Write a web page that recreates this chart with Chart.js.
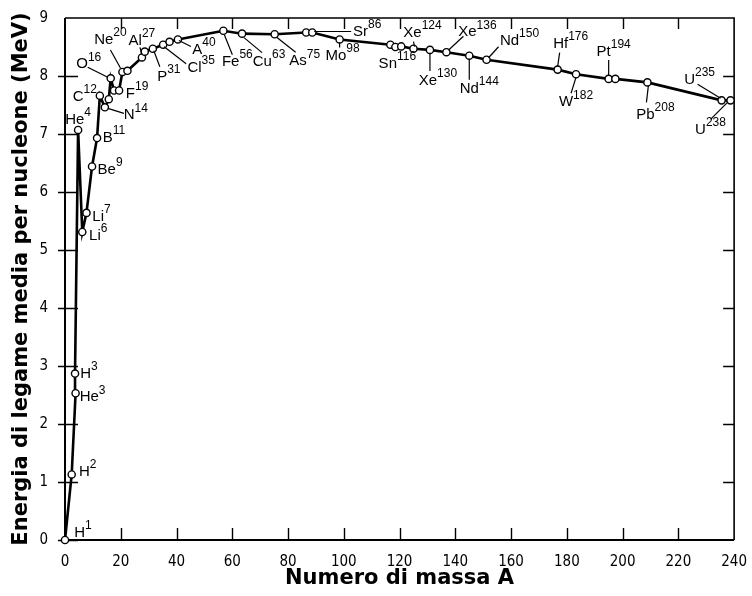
<!DOCTYPE html>
<html>
<head>
<meta charset="utf-8">
<script src="https://cdn.jsdelivr.net/npm/chart.js@4.4.1/dist/chart.umd.min.js"></script>
<style>
  html, body { margin: 0; padding: 0; background: #fff; }
</style>
</head>
<body>
<canvas id="curva" width="752" height="596"></canvas>
<script>
// Dati (numero di massa A, energia di legame per nucleone in MeV)
const massNumbers = [0, 2.4, 3.8, 3.6, 4.7, 6.2, 7.7, 9.7, 11.5, 12.5, 14.3, 15.7, 16.4, 17.6, 19.4, 20.6, 22.4,
  27.6, 28.6, 31.5, 35.2, 37.5, 40.5, 56.8, 63.5, 75.2, 86.5, 88.7, 98.5, 116.7, 118.5, 120.6, 125.0,
  130.9, 136.8, 145.0, 151.2, 176.7, 183.3, 195.0, 197.4, 208.9, 235.5, 238.7];
const bindingEnergy = [0.00, 1.13, 2.53, 2.87, 7.07, 5.31, 5.64, 6.44, 6.93, 7.66, 7.46, 7.60, 7.96, 7.75, 7.75, 8.07, 8.09,
  8.32, 8.42, 8.47, 8.54, 8.59, 8.63, 8.78, 8.73, 8.72, 8.75, 8.75, 8.63, 8.54, 8.50, 8.51, 8.47,
  8.45, 8.41, 8.35, 8.28, 8.11, 8.03, 7.95, 7.95, 7.89, 7.58, 7.58];
const nuclideNames = ['H', 'H', 'He', 'H', 'He', 'Li', 'Li', 'Be', 'B', 'C', 'N', '', 'O', '', 'F', 'Ne', '',
  'Al', '', 'P', 'Cl', '', 'A', 'Fe', 'Cu', 'As', 'Sr', '', 'Mo', 'Sn', '', '', 'Xe',
  'Xe', 'Xe', 'Nd', 'Nd', 'Hf', 'W', 'Pt', '', 'Pb', 'U', 'U'];
const nuclideMass = ['1', '2', '3', '3', '4', '6', '7', '9', '11', '12', '14', '', '16', '', '19', '20', '',
  '27', '', '31', '35', '', '40', '56', '63', '75', '86', '', '98', '116', '', '', '124',
  '130', '136', '144', '150', '176', '182', '194', '', '208', '235', '238'];
const xTickValues = [0, 20, 40, 60, 80, 100, 120, 140, 160, 180, 200, 220, 240];
const yTickValues = [0, 1, 2, 3, 4, 5, 6, 7, 8, 9];

// Posizione delle etichette rispetto al punto (px) e tratto di richiamo [x1, y1, x2, y2]
const labelLayout = {
  0: { dx: 18, dy: -7 },
  1: { dx: 16, dy: -3 },
  2: { dx: 17, dy: 4 },
  3: { dx: 14, dy: 0 },
  4: { dx: 0, dy: -10 },
  5: { dx: 16, dy: 4 },
  6: { dx: 15, dy: 4 },
  7: { dx: 18, dy: 3 },
  8: { dx: 17, dy: 0 },
  9: { dx: -15, dy: 1 },
  10: { dx: 31, dy: 8, lead: [3, 1, 19, 6] },
  12: { dx: -22, dy: -14, lead: [-23, -11, -3, -1] },
  14: { dx: 18, dy: 3 },
  15: { dx: -12, dy: -32, lead: [-12, -22, -2, -4] },
  17: { dx: 0, dy: -17, lead: [-2, -10, 0, -3] },
  19: { dx: 16, dy: 28, lead: [1, 2, 7, 18] },
  20: { dx: 38, dy: 23, lead: [1, 2, 23, 19] },
  22: { dx: 26, dy: 10, lead: [1, 1, 13, 7] },
  23: { dx: 14, dy: 31, lead: [1, 4, 9, 24] },
  24: { dx: 27, dy: 28, lead: [2, 4, 20, 19] },
  25: { dx: 30, dy: 27, lead: [2, 3, 21, 18] },
  26: { dx: 61, dy: -1, lead: [8, -1, 45, -1] },
  28: { dx: 3, dy: 16, lead: [0, 3, 0, 8] },
  29: { dx: 7, dy: 19 },
  32: { dx: 9, dy: -16, lead: [0, -7, 1, -2] },
  33: { dx: 8, dy: 31, lead: [0, 3, 0, 21] },
  34: { dx: 31, dy: -20, lead: [2, -2, 17, -16] },
  35: { dx: 10, dy: 33, lead: [0, 3, 0, 24] },
  36: { dx: 33, dy: -19, lead: [2, -2, 12, -13] },
  37: { dx: 13, dy: -26, lead: [0, -3, 2, -17] },
  38: { dx: 0, dy: 28, lead: [0, 3, -5, 19] },
  39: { dx: 5, dy: -27, lead: [0, -3, 0, -19] },
  41: { dx: 8, dy: 32, lead: [1, 3, -1, 20] },
  42: { dx: -22, dy: -21, lead: [-24, -16, -1, -2] },
  43: { dx: -20, dy: 29, lead: [-3, 2, -20, 19] }
};

const tickFont = "'Liberation Sans Narrow', 'DejaVu Sans Condensed', 'Liberation Sans', sans-serif";
const labelFont = "'Liberation Sans', Arial, sans-serif";

// Cornice con tacche rivolte verso l'interno
const frameTicks = {
  id: 'frameTicks',
  beforeDatasetsDraw(chart) {
    const { ctx, chartArea: { left, right, top, bottom }, scales: { x, y } } = chart;
    ctx.save();
    ctx.strokeStyle = '#000';
    ctx.lineWidth = 2;
    ctx.beginPath();
    ctx.moveTo(left, top);
    ctx.lineTo(left, bottom);
    ctx.lineTo(right, bottom);
    ctx.stroke();
    ctx.lineWidth = 1.6;
    ctx.beginPath();
    ctx.moveTo(left, top);
    ctx.lineTo(right, top);
    ctx.lineTo(right, bottom);
    ctx.stroke();

    ctx.lineWidth = 1.4;
    ctx.beginPath();
    xTickValues.forEach(v => {
      const px = Math.round(x.getPixelForValue(v)) + 0.5;
      if (v === x.min || v === x.max) return;
      ctx.moveTo(px, bottom);
      ctx.lineTo(px, bottom - 12);
      ctx.moveTo(px, top);
      ctx.lineTo(px, top + 11);
    });
    yTickValues.forEach(v => {
      const py = Math.round(y.getPixelForValue(v)) + 0.5;
      if (v !== y.max) {
        ctx.moveTo(left - 7, py);
        ctx.lineTo(left + 13, py);
      }
      if (v !== y.min && v !== y.max) {
        ctx.moveTo(right, py);
        ctx.lineTo(right - 11, py);
      }
    });
    ctx.stroke();
    ctx.restore();
  }
};

// Etichette dei nuclidi con apice e tratto di richiamo
const nuclideLabels = {
  id: 'nuclideLabels',
  afterDatasetsDraw(chart) {
    const { ctx } = chart;
    const meta = chart.getDatasetMeta(0);
    ctx.save();
    ctx.fillStyle = '#000';
    ctx.strokeStyle = '#000';
    ctx.lineWidth = 1.2;
    ctx.textBaseline = 'middle';
    ctx.textAlign = 'left';
    nuclideNames.forEach((name, i) => {
      const L = labelLayout[i];
      if (!name || !L) return;
      const p = meta.data[i];
      if (L.lead) {
        ctx.beginPath();
        ctx.moveTo(p.x + L.lead[0], p.y + L.lead[1]);
        ctx.lineTo(p.x + L.lead[2], p.y + L.lead[3]);
        ctx.stroke();
      }
      ctx.font = '15px ' + labelFont;
      const wMain = ctx.measureText(name).width;
      ctx.font = '12px ' + labelFont;
      const wSup = ctx.measureText(nuclideMass[i]).width;
      const x0 = p.x + L.dx - (wMain + wSup) / 2;
      const y0 = p.y + L.dy;
      ctx.font = '15px ' + labelFont;
      ctx.fillText(name, x0, y0);
      ctx.font = '12px ' + labelFont;
      ctx.fillText(nuclideMass[i], x0 + wMain, y0 - 7);
    });
    ctx.restore();
  }
};

const ctx = document.getElementById('curva').getContext('2d');
new Chart(ctx, {
  type: 'line',
  data: {
    datasets: [{
      label: 'Energia di legame',
      data: massNumbers.map((a, i) => ({ x: a, y: bindingEnergy[i] })),
      borderColor: '#000',
      borderWidth: 2.6,
      tension: 0,
      pointRadius: 3.6,
      pointBackgroundColor: '#fff',
      pointBorderColor: '#000',
      pointBorderWidth: 1.4,
      clip: false
    }]
  },
  options: {
    responsive: false,
    animation: false,
    devicePixelRatio: 1,
    layout: { padding: { top: 13, right: 15, left: 0, bottom: 0 } },
    plugins: {
      legend: { display: false },
      tooltip: { enabled: false }
    },
    scales: {
      x: {
        type: 'linear',
        min: 0,
        max: 240,
        afterBuildTicks: s => { s.ticks = xTickValues.map(v => ({ value: v })); },
        afterFit: s => { s.height = 56; },
        grid: { display: false },
        border: { display: false },
        ticks: { color: '#000', font: { family: tickFont, size: 15 }, padding: 5, maxRotation: 0, autoSkip: false },
        title: {
          display: true,
          text: 'Numero di massa A',
          color: '#000',
          font: { family: "'DejaVu Sans', sans-serif", size: 21, weight: 'bold' },
          padding: { top: 0, bottom: 5 }
        }
      },
      y: {
        type: 'linear',
        min: 0,
        max: 9,
        afterBuildTicks: s => { s.ticks = yTickValues.map(v => ({ value: v })); },
        afterFit: s => { s.width = 65; },
        grid: { display: false },
        border: { display: false },
        ticks: { color: '#000', font: { family: tickFont, size: 15 }, padding: 9 },
        title: {
          display: true,
          text: 'Energia di legame media per nucleone (MeV)',
          color: '#000',
          font: { family: "'DejaVu Sans', sans-serif", size: 21, weight: 'bold' },
          padding: { top: 9, bottom: 0 }
        }
      }
    }
  },
  plugins: [frameTicks, nuclideLabels]
});
</script>
</body>
</html>
